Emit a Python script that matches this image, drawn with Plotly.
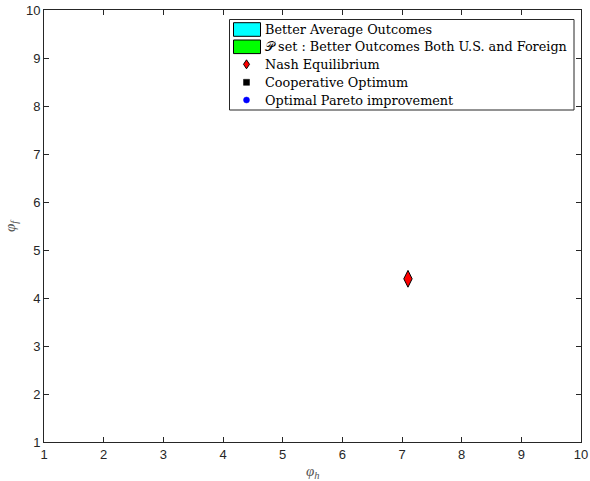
import plotly.graph_objects as go

# Data
nash_x = [7.1]
nash_y = [4.4]
coop_x = []
coop_y = []
pareto_x = []
pareto_y = []
x_ticks = [1, 2, 3, 4, 5, 6, 7, 8, 9, 10]
y_ticks = [1, 2, 3, 4, 5, 6, 7, 8, 9, 10]
legend_labels = [
    "Better Average Outcomes",
    "𝒫 set : Better Outcomes Both U.S. and Foreign",
    "Nash Equilibrium",
    "Cooperative Optimum",
    "Optimal Pareto improvement",
]

W, H = 590, 481
L, R, T, B = 44, 9, 10, 39
PW, PH = W - L - R, H - T - B


def px(x):
    return (x - L) / PW


def py(y):
    return 1 - (y - T) / PH


fig = go.Figure()
fig.add_trace(go.Scatter(x=nash_x, y=nash_y, mode="markers", name=legend_labels[2],
                         marker=dict(symbol="diamond-tall", size=12, color="red",
                                     line=dict(color="black", width=1)),
                         showlegend=False))
fig.add_trace(go.Scatter(x=coop_x, y=coop_y, mode="markers", name=legend_labels[3],
                         marker=dict(symbol="square", size=7, color="black"), showlegend=False))
fig.add_trace(go.Scatter(x=pareto_x, y=pareto_y, mode="markers", name=legend_labels[4],
                         marker=dict(symbol="circle", size=7, color="blue"), showlegend=False))

shapes = []
annotations = []
# legend box
shapes.append(dict(type="rect", xref="paper", yref="paper", x0=px(229.5), x1=px(574), y0=py(19.5), y1=py(110),
                   line=dict(color="#262626", width=1), fillcolor="white", layer="above"))
rows = [29.5, 46.8, 64.3, 82.3, 100]
# patches
for yc, col in [(rows[0], "#00ffff"), (rows[1], "#00ff00")]:
    shapes.append(dict(type="rect", xref="paper", yref="paper", x0=px(233.5), x1=px(260.5),
                       y0=py(yc - 6.8), y1=py(yc + 6.8), line=dict(color="black", width=1),
                       fillcolor=col, layer="above"))
mx = 246.5
# diamond
yc = rows[2]
shapes.append(dict(type="path", xref="paper", yref="paper",
                   path=f"M {px(mx)} {py(yc-4.5)} L {px(mx+3)} {py(yc)} L {px(mx)} {py(yc+4.5)} L {px(mx-3)} {py(yc)} Z",
                   line=dict(color="black", width=1), fillcolor="red", layer="above"))
yc = rows[3]
shapes.append(dict(type="rect", xref="paper", yref="paper", x0=px(mx - 3), x1=px(mx + 3),
                   y0=py(yc - 3), y1=py(yc + 3), line=dict(color="black", width=0.5),
                   fillcolor="black", layer="above"))
yc = rows[4]
shapes.append(dict(type="circle", xref="paper", yref="paper", x0=px(mx - 3), x1=px(mx + 3),
                   y0=py(yc - 3), y1=py(yc + 3), line=dict(color="blue", width=0.5),
                   fillcolor="blue", layer="above"))
for lab, yc in zip(legend_labels, rows):
    annotations.append(dict(text=lab, xref="paper", yref="paper", x=px(262.5), y=py(yc),
                            xanchor="left", yanchor="middle", showarrow=False,
                            font=dict(family="DejaVu Serif", size=12.8, color="black")))

axis_common = dict(showline=True, linecolor="#262626", linewidth=1, mirror="ticks",
                   ticks="inside", ticklen=5, tickcolor="#262626", showgrid=False,
                   zeroline=False, tickfont=dict(family="Liberation Sans", size=13, color="#262626"))

fig.update_layout(
    width=W, height=H,
    margin=dict(l=L, r=R, t=T, b=B, autoexpand=False),
    plot_bgcolor="white", paper_bgcolor="white",
    xaxis=dict(range=[1, 10], tickvals=x_ticks, **axis_common),
    yaxis=dict(range=[1, 10], tickvals=y_ticks, **axis_common),
    shapes=shapes,
    annotations=annotations + [
        dict(text="<i>φ</i><sub><i>h</i></sub>", xref="paper", yref="paper", x=0.5, y=py(472),
             xanchor="center", yanchor="middle", showarrow=False,
             font=dict(family="Liberation Serif", size=15, color="#555555")),
        dict(text="<i>φ</i><sub><i>f</i></sub>", xref="paper", yref="paper", x=px(11), y=0.5,
             xanchor="center", yanchor="middle", showarrow=False, textangle=-90,
             font=dict(family="Liberation Serif", size=15, color="#555555")),
    ],
    showlegend=False,
)

fig.write_html("out.html")
